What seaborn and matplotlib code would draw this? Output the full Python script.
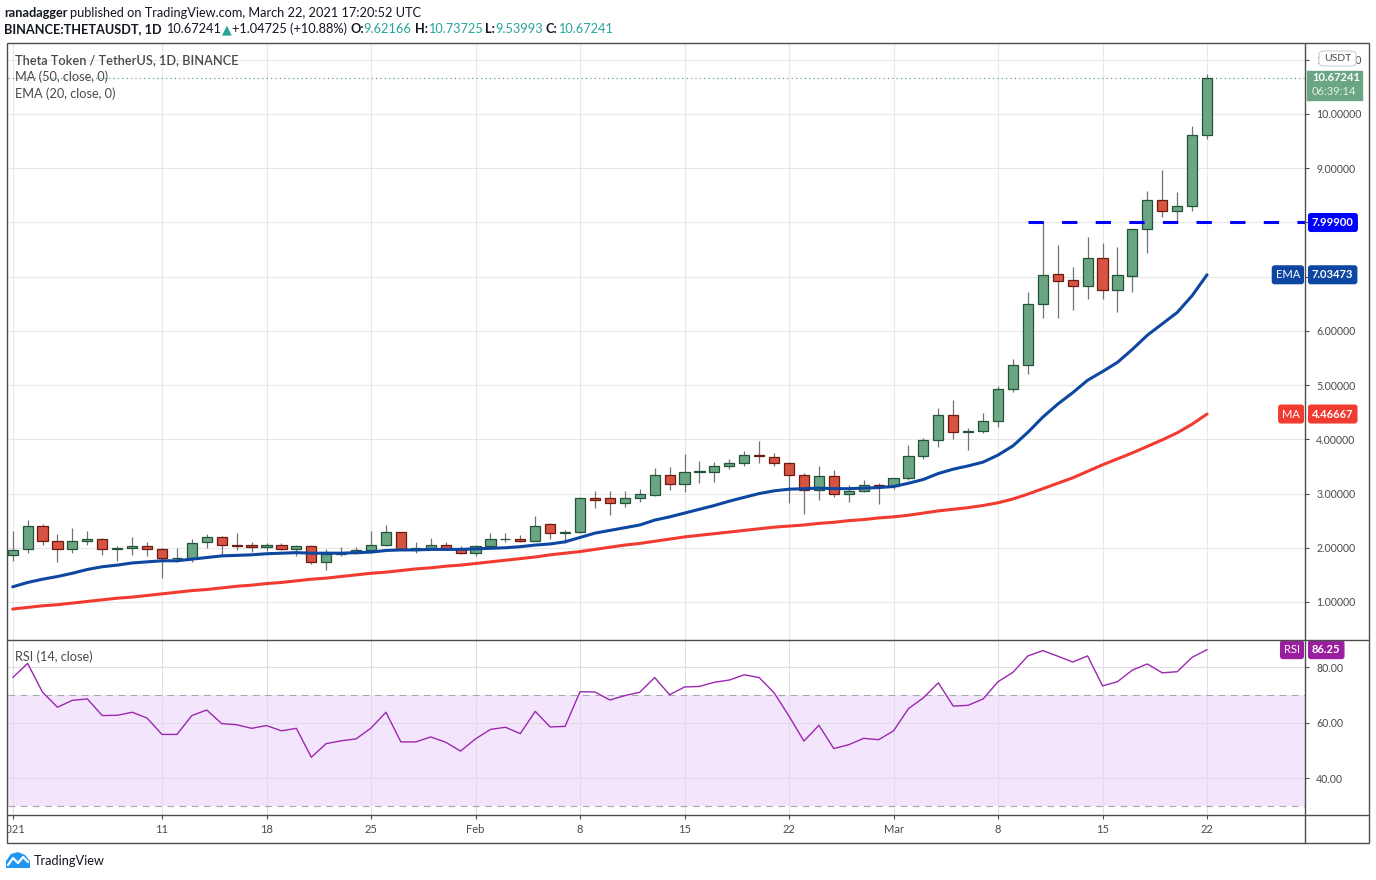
import matplotlib
matplotlib.use("Agg")
import matplotlib.pyplot as plt
import matplotlib.dates as mdates
import matplotlib.transforms as mtransforms
from matplotlib.patches import Rectangle, FancyBboxPatch, Polygon
from matplotlib.lines import Line2D
import numpy as np
import pandas as pd
import seaborn as sns

sns.set_theme(style="white")
plt.rcParams['font.family'] = ['Lato', 'DejaVu Sans']

# ---- data ----
dates = pd.date_range("2021-01-01", "2021-03-22", freq="D")

opens = [1.86, 1.97, 2.40, 2.12, 1.97, 2.12, 2.16, 1.98, 1.99, 2.03,
         1.97, 1.81, 1.82, 2.10, 2.19, 2.05, 2.05, 2.01, 2.05, 1.98,
         2.03, 1.73, 1.89, 1.91, 1.95, 2.06, 2.29, 1.98, 1.99, 2.05, 1.98,
         1.90, 2.03, 2.16, 2.17, 2.12, 2.43, 2.27, 2.29, 2.91, 2.91,
         2.82, 2.91, 2.98, 3.34, 3.17, 3.39, 3.40, 3.50, 3.56, 3.71,
         3.68, 3.56, 3.34, 3.06, 3.32, 2.99, 3.05, 3.15,
         3.13, 3.28, 3.69, 3.98, 4.44, 4.13, 4.15, 4.33, 4.92, 5.37,
         6.49, 7.05, 6.93, 6.82, 7.34, 6.75, 7.02, 7.87, 8.41, 8.21,
         8.30, 9.62166]
highs = [2.31, 2.51, 2.43, 2.25, 2.36, 2.31, 2.18, 2.03, 2.20, 2.11,
         1.99, 1.99, 2.16, 2.25, 2.21, 2.27, 2.11, 2.08, 2.09, 2.05,
         2.05, 1.97, 2.01, 2.01, 2.31, 2.42, 2.30, 2.11, 2.18, 2.10, 2.03,
         2.05, 2.28, 2.27, 2.23, 2.59, 2.45, 2.33, 2.94, 3.05, 3.05,
         3.05, 3.08, 3.47, 3.49, 3.73, 3.60, 3.58, 3.64, 3.78, 3.97,
         3.75, 3.58, 3.38, 3.51, 3.43, 3.16, 3.25, 3.19,
         3.28, 3.90, 4.02, 4.58, 4.73, 4.20, 4.49, 4.98, 5.48, 6.72,
         8.00, 7.58, 7.18, 7.73, 7.62, 7.55, 7.87, 8.58, 8.96, 8.56,
         9.77, 10.73725]
lows = [1.76, 1.91, 2.06, 1.74, 1.91, 2.05, 1.87, 1.76, 1.87, 1.84,
        1.45, 1.73, 1.74, 2.00, 1.87, 1.96, 1.93, 1.94, 1.95, 1.84,
        1.70, 1.59, 1.85, 1.88, 1.90, 2.04, 1.95, 1.91, 1.95, 1.96, 1.88,
        1.84, 1.98, 2.11, 2.10, 2.12, 2.17, 2.08, 2.28, 2.74, 2.61,
        2.76, 2.85, 2.96, 3.07, 3.02, 3.20, 3.22, 3.46, 3.50, 3.57,
        3.50, 2.83, 2.63, 2.89, 2.94, 2.85, 3.03, 2.81,
        3.08, 3.25, 3.63, 3.85, 4.01, 3.81, 4.12, 4.23, 4.88, 5.21,
        6.23, 6.24, 6.39, 6.58, 6.58, 6.35, 6.72, 7.44, 8.10, 8.01,
        8.22, 9.53993]
closes = [1.95, 2.40, 2.12, 1.97, 2.12, 2.16, 1.98, 1.99, 2.03, 1.97,
          1.81, 1.82, 2.08, 2.19, 2.05, 2.04, 2.01, 2.05, 1.98, 2.03,
          1.73, 1.89, 1.91, 1.95, 2.06, 2.29, 1.98, 1.99, 2.05, 1.98, 1.90,
          2.03, 2.16, 2.17, 2.12, 2.41, 2.27, 2.29, 2.91, 2.89, 2.82,
          2.91, 2.99, 3.34, 3.17, 3.39, 3.41, 3.50, 3.56, 3.71, 3.69,
          3.56, 3.34, 3.06, 3.32, 2.99, 3.04, 3.15, 3.13,
          3.28, 3.69, 3.98, 4.44, 4.13, 4.15, 4.33, 4.92, 5.37, 6.49,
          7.03, 6.92, 6.82, 7.34, 6.75, 7.03, 7.87, 8.41, 8.21, 8.30,
          9.62, 10.67241]
ema20 = [1.28, 1.36, 1.42, 1.47, 1.53, 1.60, 1.65, 1.68, 1.72, 1.74,
         1.76, 1.76, 1.79, 1.82, 1.85, 1.86, 1.87, 1.89, 1.90, 1.91,
         1.90, 1.90, 1.90, 1.91, 1.92, 1.95, 1.96, 1.96, 1.97, 1.97, 1.97,
         1.98, 1.99, 2.00, 2.02, 2.05, 2.07, 2.11, 2.19, 2.27, 2.32,
         2.37, 2.42, 2.51, 2.57, 2.64, 2.71, 2.78, 2.86, 2.93, 3.00,
         3.05, 3.08, 3.09, 3.10, 3.09, 3.09, 3.10, 3.11,
         3.13, 3.19, 3.26, 3.37, 3.45, 3.51, 3.58, 3.71, 3.88, 4.13,
         4.41, 4.65, 4.86, 5.09, 5.25, 5.42, 5.66, 5.92, 6.13, 6.34,
         6.65, 7.03473]
ma50 = [0.87, 0.90, 0.93, 0.95, 0.98, 1.01, 1.04, 1.07, 1.09, 1.12,
        1.15, 1.18, 1.21, 1.23, 1.26, 1.29, 1.31, 1.34, 1.36, 1.39,
        1.42, 1.44, 1.47, 1.50, 1.53, 1.55, 1.58, 1.61, 1.63, 1.66, 1.68,
        1.71, 1.74, 1.77, 1.80, 1.83, 1.87, 1.90, 1.93, 1.97, 2.01,
        2.05, 2.08, 2.12, 2.16, 2.20, 2.23, 2.26, 2.29, 2.32, 2.35,
        2.38, 2.40, 2.42, 2.45, 2.47, 2.50, 2.52, 2.55,
        2.57, 2.60, 2.64, 2.68, 2.71, 2.74, 2.78, 2.83, 2.90, 2.99,
        3.09, 3.19, 3.29, 3.41, 3.53, 3.64, 3.75, 3.87, 3.99, 4.12,
        4.28, 4.46667]
rsi14 = [76.2, 81.3, 70.9, 65.5, 68.0, 68.5, 62.5, 62.6, 63.7, 61.6,
         55.7, 55.7, 62.5, 64.5, 59.6, 59.2, 57.9, 58.9, 57.0, 57.9,
         47.5, 52.4, 53.4, 54.1, 58.0, 63.7, 53.0, 53.0, 54.8, 52.9, 49.7,
         54.1, 57.5, 58.3, 56.0, 64.0, 58.4, 58.6, 71.1, 71.0, 68.1,
         69.7, 70.9, 76.2, 70.0, 72.8, 73.0, 74.5, 75.3, 77.2, 76.2,
         70.7, 62.3, 53.3, 59.0, 50.6, 52.0, 54.3, 53.8,
         57.0, 65.0, 68.9, 74.3, 65.9, 66.2, 68.5, 74.7, 78.1, 84.0,
         85.9, 83.9, 81.8, 84.0, 73.2, 74.7, 78.9, 81.1, 77.9, 78.3,
         83.5, 86.25]

tick_dates = ["2021-01-01", "2021-01-11", "2021-01-18", "2021-01-25", "2021-02-01",
              "2021-02-08", "2021-02-15", "2021-02-22", "2021-03-01", "2021-03-08",
              "2021-03-15", "2021-03-22"]
tick_labels = ["2021", "11", "18", "25", "Feb", "8", "15", "22", "Mar", "8", "15", "22"]
price_ticks = [1, 2, 3, 4, 5, 6, 7, 8, 9, 10, 11]
hidden_price_ticks = [7, 8]  # covered by the EMA and 7.99900 tags in the original
rsi_ticks = [40, 60, 80]

resistance = 7.999
resistance_from = "2021-03-10"
last_open, last_high, last_low, last_close = 9.62166, 10.73725, 9.53993, 10.67241
change, change_pct = 1.04725, 10.88
countdown = "06:39:14"

# ---- colours ----
DARK = '#131722'
AXIS_TXT = '#4a4a4a'
FRAME = '#4d4d4d'
GRID = '#e8e8ea'
TEAL = '#26a69a'
G_BODY, G_EDGE = '#6ba583', '#225437'
R_BODY, R_EDGE = '#d75442', '#6b1a12'
WICK = '#737375'
EMA_C = '#0d47a1'
MA_C = '#f23b30'
RSI_C = '#9c27b0'
BAND = '#f3e5fc'

W, H = 1376, 880


def fx(px):
    return px / W


def fy(py):
    return 1 - py / H


fig = plt.figure(figsize=(W / 100, H / 100), dpi=100)
fig.patch.set_facecolor('white')

ax = fig.add_axes([fx(8), fy(640), (1305 - 8) / W, (640 - 44) / H])
axr = fig.add_axes([fx(8), fy(815), (1305 - 8) / W, (815 - 640) / H])
axd = fig.add_axes([fx(8), fy(843), (1305 - 8) / W, (843 - 815) / H])

xnum = mdates.date2num(dates)
tick_num = mdates.date2num(pd.to_datetime(tick_dates))
xlim = (xnum[0] - 0.315, xnum[0] + 86.56)

df = pd.DataFrame({'x': xnum, 'open': opens, 'high': highs, 'low': lows, 'close': closes,
                   'ema': ema20, 'ma': ma50, 'rsi': rsi14})
df['up'] = df['close'] >= df['open']
df['bottom'] = df[['open', 'close']].min(axis=1)
df['height'] = (df['close'] - df['open']).abs().clip(lower=0.004)

for a in (ax, axr, axd):
    a.set_xlim(xlim)
    a.set_facecolor('white')
    for s in a.spines.values():
        s.set_visible(False)

# ---- main price pane ----
ylim = (0.299, 11.291)
ax.set_ylim(ylim)
ax.set_xticks(tick_num)
ax.tick_params(axis='x', length=0, labelbottom=False, bottom=False)
ax.yaxis.tick_right()
ax.set_yticks(price_ticks)
ax.set_yticklabels(["" if v in hidden_price_ticks else f"{v:.5f}" for v in price_ticks])
ax.tick_params(axis='y', right=True, left=False, length=3, width=0.8, color=FRAME,
               labelsize=7.6, labelcolor=AXIS_TXT, pad=5)
ax.grid(True, color=GRID, linewidth=0.8)
ax.set_axisbelow(True)

ax.vlines(df['x'], df['low'], df['high'], color=WICK, linewidth=0.9, zorder=2)
up = df[df['up']]
dn = df[~df['up']]
ax.bar(up['x'], up['height'], bottom=up['bottom'], width=0.68, color=G_BODY,
       edgecolor=G_EDGE, linewidth=0.9, zorder=3)
ax.bar(dn['x'], dn['height'], bottom=dn['bottom'], width=0.68, color=R_BODY,
       edgecolor=R_EDGE, linewidth=0.9, zorder=3)

sns.lineplot(data=df, x='x', y='ma', ax=ax, color=MA_C, linewidth=2.2, zorder=4)
sns.lineplot(data=df, x='x', y='ema', ax=ax, color=EMA_C, linewidth=2.2, zorder=4)
ax.set_xlabel('')
ax.set_ylabel('')

ax.axhline(last_close, color='#6b9e84', linewidth=0.9, linestyle=(0, (1, 2.5)), zorder=1)
res_x = mdates.date2num(pd.Timestamp(resistance_from))
ax.plot([res_x, xlim[1]], [resistance, resistance], color='#0000ff', linewidth=2.2,
        dashes=(5, 6), zorder=5)


def tag(axis, value, text, color, side='right', fs=8, weight='bold'):
    if side == 'right':
        off, ha = 7, 'left'
    else:
        off, ha = -5, 'right'
    axis.annotate(text, xy=(1, value), xycoords=('axes fraction', 'data'),
                  xytext=(off, 0), textcoords='offset pixels', ha=ha, va='center',
                  color='white', fontsize=fs, fontweight=weight,
                  bbox=dict(boxstyle='round,pad=0.3,rounding_size=0.2', fc=color, ec=color),
                  annotation_clip=False, zorder=10)


tag(ax, resistance, f"{resistance:.5f}", '#0000ff')
tag(ax, ema20[-1], f"{ema20[-1]:.5f}", EMA_C)
tag(ax, ema20[-1], "EMA", EMA_C, side='left', weight='normal')
tag(ax, ma50[-1], f"{ma50[-1]:.5f}", MA_C)
tag(ax, ma50[-1], "MA", MA_C, side='left', weight='normal')

# current price tag (two lines on one green box)
dpp = (ylim[1] - ylim[0]) / 596.0
box_tr = mtransforms.blended_transform_factory(fig.transFigure, ax.transData)
ax.add_patch(Rectangle((fx(1307), last_close - 22 * dpp), (1362 - 1307) / W, 29 * dpp,
                       transform=box_tr, fc=G_BODY, ec=G_BODY, clip_on=False, zorder=10))
ax.annotate(f"{last_close:.5f}", xy=(1, last_close), xycoords=('axes fraction', 'data'),
            xytext=(7, 0), textcoords='offset pixels', ha='left', va='center',
            color='white', fontsize=8, fontweight='bold', annotation_clip=False, zorder=11)
ax.annotate(countdown, xy=(1, last_close), xycoords=('axes fraction', 'data'),
            xytext=(7, -14), textcoords='offset pixels', ha='left', va='center',
            color='#e3f0e8', fontsize=8, annotation_clip=False, zorder=11)

# USDT unit box over the top label
fig.add_artist(FancyBboxPatch((fx(1319), fy(66)), (1356 - 1319) / W, 15 / H,
                              boxstyle='round,pad=0,rounding_size=0.004',
                              transform=fig.transFigure, fc='white', ec='#cfcfd4',
                              lw=0.8, zorder=20))
fig.text(fx(1337.5), fy(58.5), "USDT", ha='center', va='center', fontsize=7.5,
         color=AXIS_TXT, zorder=21)

# legend text in the pane
fig.text(fx(15), fy(60), "Theta Token / TetherUS, 1D, BINANCE", fontsize=9.2,
         color=AXIS_TXT, fontweight='semibold', va='center')
fig.text(fx(15), fy(77), "MA (50, close, 0)", fontsize=9.2, color=AXIS_TXT, va='center')
fig.text(fx(15), fy(94), "EMA (20, close, 0)", fontsize=9.2, color=AXIS_TXT, va='center')

# ---- RSI pane ----
axr.set_ylim(26.67, 89.73)
axr.axhspan(30, 70, color=BAND, zorder=0, linewidth=0)
axr.set_xticks(tick_num)
axr.tick_params(axis='x', length=0, labelbottom=False, bottom=False)
axr.yaxis.tick_right()
axr.set_yticks(rsi_ticks)
axr.set_yticklabels([f"{v:.2f}" for v in rsi_ticks])
axr.tick_params(axis='y', right=True, left=False, length=3, width=0.8, color=FRAME,
                labelsize=7.6, labelcolor=AXIS_TXT, pad=5)
axr.grid(True, color='#e3dbe8', linewidth=0.8)
axr.set_axisbelow(True)
for lvl in (30, 70):
    axr.axhline(lvl, color='#a9a6b0', linewidth=0.8, dashes=(6, 5), zorder=1)
sns.lineplot(data=df, x='x', y='rsi', ax=axr, color=RSI_C, linewidth=1.0, zorder=4)
axr.set_xlabel('')
axr.set_ylabel('')
fig.text(fx(15), fy(657), "RSI (14, close)", fontsize=9.2, color=AXIS_TXT, va='center')
tag(axr, rsi14[-1], f"{rsi14[-1]:.2f}", '#9a1f9f')
tag(axr, rsi14[-1], "RSI", '#9a1f9f', side='left', weight='normal')

# ---- date axis ----
axd.set_ylim(0, 1)
axd.set_yticks([])
axd.set_xticks(tick_num)
axd.tick_params(axis='x', top=True, bottom=False, direction='in', length=3, width=0.8,
                color=FRAME, labeltop=False, labelbottom=False)
for xn, lab in zip(tick_num, tick_labels):
    axd.text(xn, 0.47, lab, ha='center', va='center', fontsize=8, color=AXIS_TXT,
             clip_on=True)

# ---- frame lines ----
fig.add_artist(Rectangle((fx(7), fy(843)), (1369 - 7) / W, (843 - 43) / H,
                         transform=fig.transFigure, fill=False, ec=FRAME, lw=1.0, zorder=15))
for yy in (640, 815):
    fig.add_artist(Line2D([fx(7), fx(1369)], [fy(yy), fy(yy)], transform=fig.transFigure,
                          color=FRAME, lw=1.0, zorder=15))
fig.add_artist(Line2D([fx(1305), fx(1305)], [fy(43), fy(843)], transform=fig.transFigure,
                      color=FRAME, lw=1.0, zorder=15))

# ---- header ----
renderer = fig.canvas.get_renderer()


def run(x, y, pieces, size=9.2):
    for s, col, bold, gap in pieces:
        t = fig.text(fx(x), fy(y), s, color=col, fontsize=size,
                     fontweight='bold' if bold else 'normal', va='center', ha='left')
        x += t.get_window_extent(renderer).width + gap


run(4, 13, [("ranadagger", DARK, True, 3),
            ("published on TradingView.com, March 22, 2021 17:20:52 UTC", DARK, False, 0)])
run(4, 29, [("BINANCE:THETAUSDT, 1D", DARK, True, 4),
            (f"{last_close:.5f}", DARK, False, 1),
            ("\u25B2", TEAL, False, 1),
            (f"+{change:.5f} (+{change_pct:.2f}%)", DARK, False, 3),
            ("O:", DARK, True, 0), (f"{last_open:.5f}", TEAL, False, 3),
            ("H:", DARK, True, 0), (f"{last_high:.5f}", TEAL, False, 3),
            ("L:", DARK, True, 0), (f"{last_low:.5f}", TEAL, False, 3),
            ("C:", DARK, True, 0), (f"{last_close:.5f}", TEAL, False, 0)])

# ---- TradingView footer ----
fig.add_artist(Polygon([[fx(6), fy(868)], [fx(6), fy(861)], [fx(11), fy(854)],
                        [fx(18), fy(852)], [fx(25), fy(855)], [fx(30), fy(861)],
                        [fx(30), fy(868)]], closed=True, transform=fig.transFigure,
                       fc='#2196f3', ec='none', zorder=15))
fig.add_artist(Line2D([fx(8), fx(13), fx(18), fx(23), fx(28)],
                      [fy(865), fy(858), fy(863), fy(857), fy(862)],
                      transform=fig.transFigure, color='white', lw=1.6, zorder=16))
fig.text(fx(34), fy(861), "TradingView", fontsize=9.2, color=DARK, va='center')

fig.savefig("out.png", dpi=100)
